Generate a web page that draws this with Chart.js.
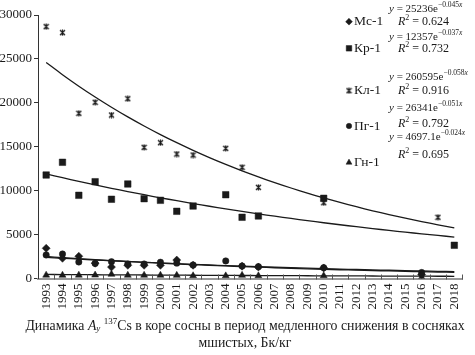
<!DOCTYPE html>
<html><head><meta charset="utf-8">
<script src="https://cdn.jsdelivr.net/npm/chart.js@4"></script>
<style>html,body{margin:0;padding:0;background:#fff}#wrap{width:475px;height:355px;position:relative}</style>
</head><body><div id="wrap"><canvas id="c" width="475" height="355"></canvas></div>
<script>
// ---- data ----
const years = ['1993','1994','1995','1996','1997','1998','1999','2000','2001','2002','2003','2004','2005','2006','2007','2008','2009','2010','2011','2012','2013','2014','2015','2016','2017','2018'];
const yTicks = [0, 5000, 10000, 15000, 20000, 25000, 30000];
const seriesNames = ['Мс-1', 'Кр-1', 'Кл-1', 'Пг-1', 'Гн-1'];
const mc1 = [3440, 2300, 2530, 1750, 1300, 1500, 1500, 1500, 2100, 1500, null, null, 1400, 1300, null, null, null, 1200, null, null, null, null, null, 450, null, null];
const kr1 = [11780, 13230, 9470, 11020, 9020, 10760, 9090, 8900, 7650, 8250, null, 9540, 6970, 7120, null, null, null, 9130, null, null, null, null, null, null, null, 3780];
const kl1 = [28670, 27990, 18810, 20060, 18610, 20470, 14930, 15460, 14170, 14060, null, 14820, 12660, 10380, null, null, null, 8630, null, null, null, null, null, null, 6970, null];
const pg1 = [2680, 2790, 1880, 1700, 1910, 1650, 1650, 1850, 1750, 1540, null, 2000, 1420, 1350, null, null, null, 1230, null, null, null, null, null, 680, null, null];
const gn1 = [380, 370, 380, 390, 480, 370, 370, 370, 360, 310, null, 300, 360, 310, null, null, null, 310, null, null, null, null, null, 120, null, null];
// exponential trend lines
const mc1Trend = [2413, 2306, 2205, 2108, 2015, 1926, 1842, 1761, 1683, 1609, 1538, 1471, 1406, 1344, 1285, 1228, 1174, 1123, 1073, 1026, 981, 938, 896, 857, 819, 783];
const kr1Trend = [11908, 11476, 11059, 10657, 10270, 9897, 9537, 9191, 8857, 8535, 8225, 7926, 7638, 7361, 7094, 6836, 6588, 6348, 6118, 5895, 5681, 5475, 5276, 5084, 4900, 4722];
const kl1Trend = [24591, 23205, 21898, 20664, 19500, 18401, 17364, 16386, 15463, 14591, 13769, 12993, 12261, 11570, 10918, 10303, 9723, 9175, 8658, 8170, 7710, 7275, 6866, 6479, 6114, 5769];
const pg1Trend = [2503, 2379, 2260, 2148, 2041, 1940, 1843, 1752, 1664, 1582, 1503, 1428, 1357, 1290, 1226, 1165, 1107, 1052, 999, 950, 903, 858, 815, 775, 736, 700];
const gn1Trend = [459, 448, 437, 427, 417, 407, 397, 388, 379, 370, 361, 352, 344, 336, 328, 320, 313, 305, 298, 291, 284, 277, 271, 264, 258, 252];
const eqCoef = ['25236', '12357', '260595', '26341', '4697.1'];
const eqExp = ['−0.045', '−0.037', '−0.058', '−0.051', '−0.024'];
const eqR2 = ['0.624', '0.732', '0.916', '0.792', '0.695'];

// ---- styling ----
const SERIF = '"Liberation Serif","Times New Roman","DejaVu Serif",serif';
const INK = '#1a1a1a';
function makeStar(size) {
  const c = document.createElement('canvas'); c.width = c.height = size;
  const x = c.getContext('2d'); x.strokeStyle = INK; x.lineWidth = 1.3;
  x.beginPath(); x.moveTo(1, 1); x.lineTo(size - 1, size - 1); x.moveTo(size - 1, 1); x.lineTo(1, size - 1);
  x.moveTo(size / 2, 0.5); x.lineTo(size / 2, size - 0.5); x.stroke();
  return c;
}
const star = makeStar(7);
const styles = [
  { pointStyle: 'rectRot', radius: 4 },
  { pointStyle: 'rect', radius: 4.6 },
  { pointStyle: star, radius: 4 },
  { pointStyle: 'circle', radius: 3.2 },
  { pointStyle: 'triangle', radius: 4 }
];
const pointSets = [mc1, kr1, kl1, pg1, gn1];
const trendSets = [mc1Trend, kr1Trend, kl1Trend, pg1Trend, gn1Trend];

const datasets = [];
trendSets.forEach((t, i) => datasets.push({
  label: seriesNames[i] + ' trend', data: t, borderColor: INK, borderWidth: 1.3,
  pointRadius: 0, fill: false, tension: 0.3, order: 2
}));
pointSets.forEach((d, i) => datasets.push({
  label: seriesNames[i], data: d, showLine: false, pointStyle: styles[i].pointStyle,
  pointRadius: styles[i].radius, backgroundColor: INK, borderColor: INK, borderWidth: 0.5, order: 1
}));

function rich(ctx, segs, x, y, align) {
  let w = 0;
  segs.forEach(s => { ctx.font = s.f; s.w = ctx.measureText(s.t).width; w += s.w; });
  let cx = align === 'center' ? x - w / 2 : x;
  ctx.textAlign = 'left'; ctx.textBaseline = 'middle'; ctx.fillStyle = INK;
  segs.forEach(s => { ctx.font = s.f; ctx.fillText(s.t, cx, y + (s.dy || 0)); cx += s.w; });
}

const legendYs = [21.7, 48.3, 90.7, 126, 162.5];
const eqYs = [9.5, 36.7, 76.7, 108.3, 137];
const r2Ys = [22, 49, 91, 123.5, 155];

const decor = {
  id: 'decor',
  afterDraw(chart) {
    const ctx = chart.ctx, a = chart.chartArea;
    ctx.save();
    // x-axis tick marks (crossing, between categories)
    ctx.strokeStyle = '#555'; ctx.lineWidth = 1;
    const n = years.length, step = (a.right - a.left) / n;
    for (let k = 1; k <= n; k++) {
      const px = Math.round(a.left + k * step) + 0.5;
      ctx.beginPath(); ctx.moveTo(px, a.bottom - 4); ctx.lineTo(px, a.bottom + 1); ctx.stroke();
    }
    // legend
    seriesNames.forEach((nm, i) => {
      ctx.fillStyle = INK; ctx.strokeStyle = INK; ctx.lineWidth = 0.5;
      Chart.helpers.drawPoint(ctx, { pointStyle: styles[i].pointStyle, radius: styles[i].radius * 0.85, rotation: 0, borderWidth: 0.5 }, 349, legendYs[i]);
      rich(ctx, [{ t: nm, f: '13.5px ' + SERIF }], 354, legendYs[i], 'left');
    });
    // equations
    const F = '11px ' + SERIF, FI = 'italic 11px ' + SERIF, FS = '7.5px ' + SERIF, FSI = 'italic 7.5px ' + SERIF;
    seriesNames.forEach((nm, i) => {
      rich(ctx, [{ t: 'y', f: FI }, { t: ' = ' + eqCoef[i] + 'e', f: F }, { t: eqExp[i], f: FS, dy: -4 }, { t: 'x', f: FSI, dy: -4 }], 389, eqYs[i], 'left');
      rich(ctx, [{ t: 'R', f: 'italic 12px ' + SERIF }, { t: '2', f: '8px ' + SERIF, dy: -4 }, { t: ' = ' + eqR2[i], f: '12px ' + SERIF }], 398, r2Ys[i], 'left');
    });
    // caption
    const C = '13.8px ' + SERIF;
    rich(ctx, [{ t: 'Динамика ', f: C }, { t: 'A', f: 'italic ' + C }, { t: 'y', f: 'italic 9px ' + SERIF, dy: 3 }, { t: ' ', f: C },
      { t: '137', f: '9px ' + SERIF, dy: -4 }, { t: 'Cs в коре сосны в период медленного снижения в сосняках', f: C }], 245, 326, 'center');
    rich(ctx, [{ t: 'мшистых, Бк/кг', f: C }], 245, 343, 'center');
    ctx.restore();
  }
};

new Chart(document.getElementById('c'), {
  type: 'line',
  data: { labels: years, datasets },
  options: {
    responsive: false, animation: false, devicePixelRatio: 1,
    layout: { padding: { top: 15, left: 0, right: 0, bottom: 42.5 } },
    plugins: { legend: { display: false }, tooltip: { enabled: false } },
    spanGaps: false,
    scales: {
      x: {
        type: 'category', offset: true,
        grid: { display: true, drawOnChartArea: false, drawTicks: false, offset: true, color: 'rgba(0,0,0,0)' },
        border: { display: true, color: '#999', width: 2 },
        ticks: { autoSkip: false, maxRotation: 90, minRotation: 90, padding: 5, color: INK, font: { family: SERIF, size: 13 } },
        afterFit(s) { s.height = 34; }
      },
      y: {
        min: 0, max: 30000,
        afterBuildTicks(s) { s.ticks = yTicks.map(v => ({ value: v })); },
        grid: { drawOnChartArea: false, tickLength: 4, color: '#333' },
        border: { display: true, color: '#333', width: 1 },
        ticks: { padding: 2, color: INK, font: { family: SERIF, size: 13 }, callback: v => String(v) },
        afterFit(s) { s.width = 38; }
      }
    }
  },
  plugins: [decor]
});
</script></body></html>
